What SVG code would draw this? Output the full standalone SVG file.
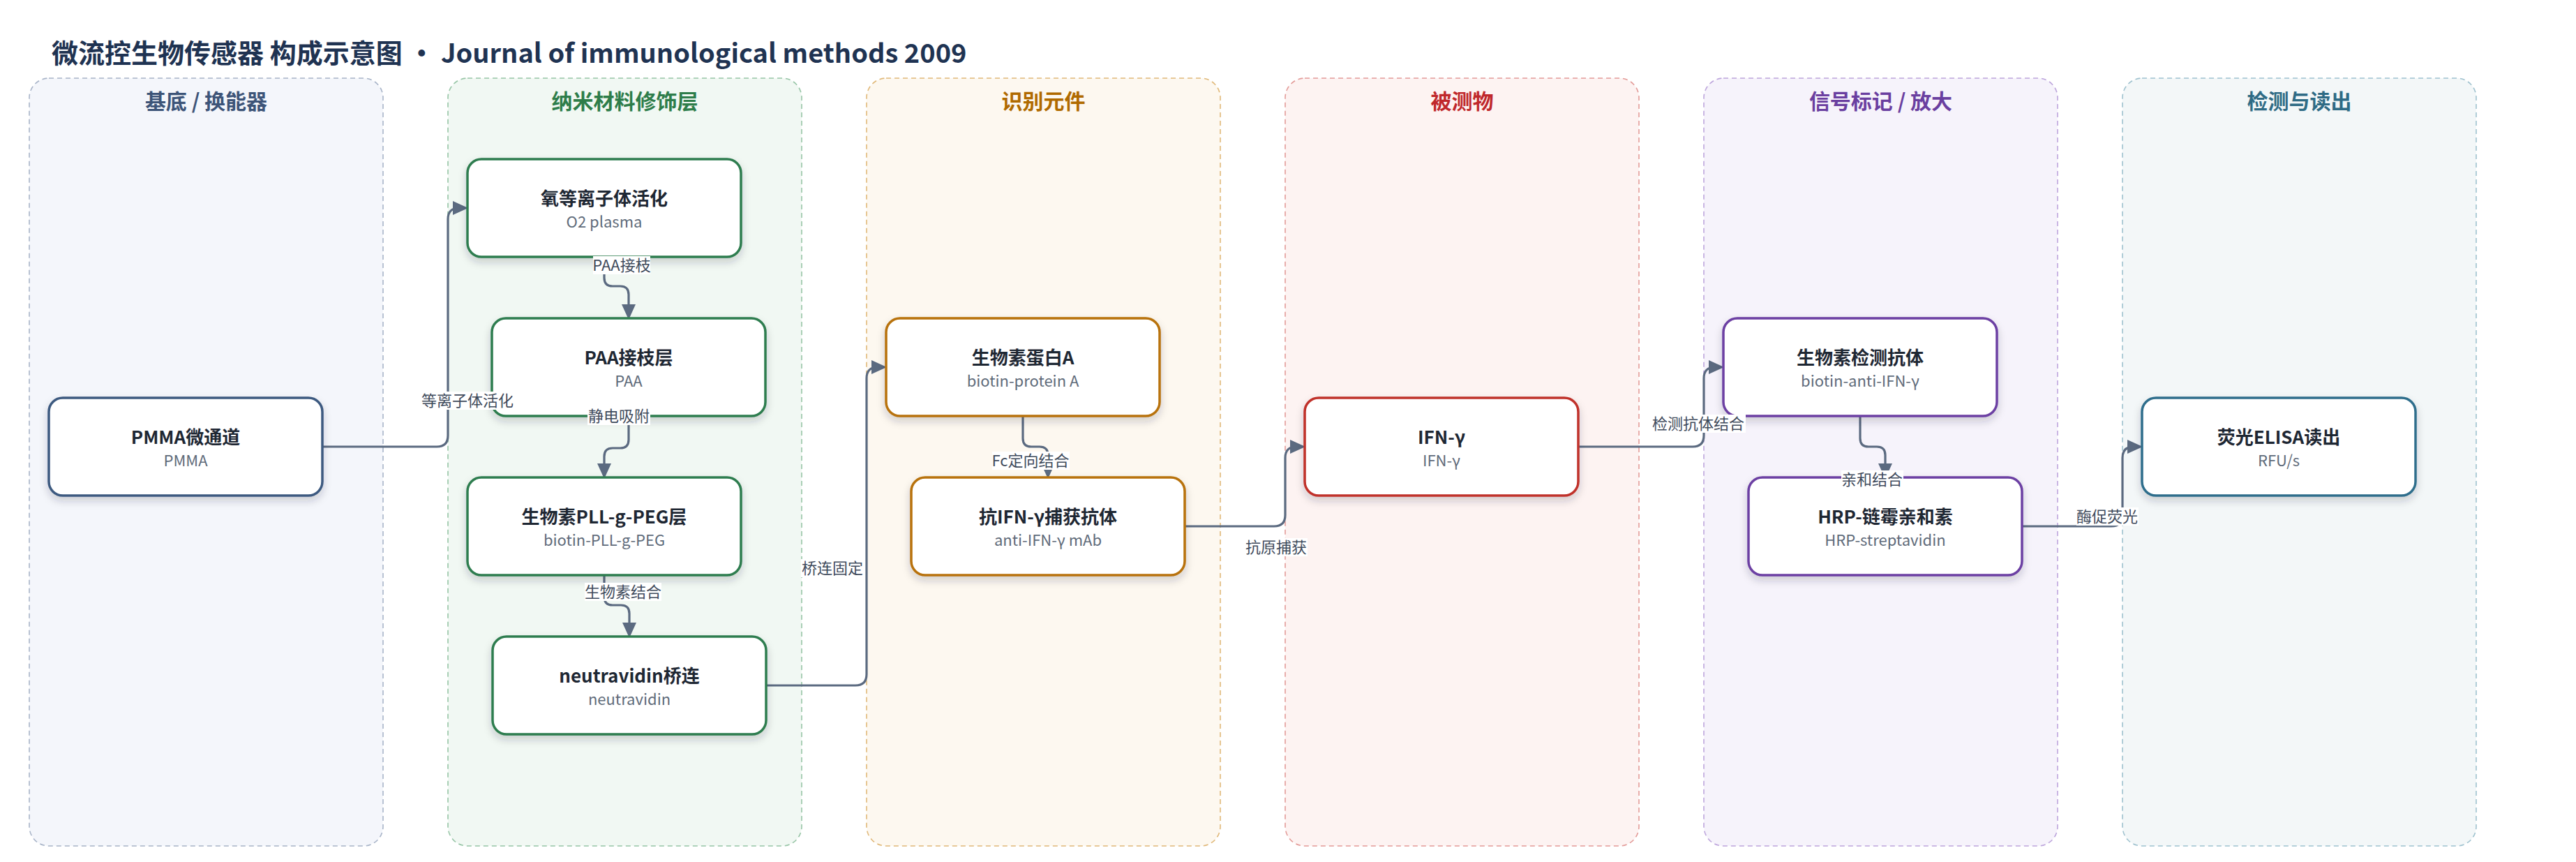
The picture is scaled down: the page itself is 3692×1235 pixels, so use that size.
<svg xmlns="http://www.w3.org/2000/svg" width="3692" height="1235" viewBox="0 0 3692 1235">
<style>
text{font-family:"Noto Sans CJK SC","Noto Sans",sans-serif}
.title{font-size:38px;font-weight:700;fill:#1f3352}
.lane{stroke-width:1.6;stroke-dasharray:7 5}
.lt{font-size:30px;font-weight:700;text-anchor:middle}
.node rect{fill:#fff;stroke-width:3.5;filter:url(#sh)}
.nt{font-size:26px;font-weight:700;fill:#1e2733;text-anchor:middle}
.ns{font-size:22px;fill:#5f6b7a;text-anchor:middle}
.edge{fill:none;stroke:#5b6a80;stroke-width:3.2;marker-end:url(#ah)}
.lb{fill:#fff}
.el{font-size:22px;fill:#3f4b5c;text-anchor:middle}
</style>
<defs>
<filter id="sh" x="-10%" y="-10%" width="120%" height="140%">
<feDropShadow dx="0" dy="6" stdDeviation="6" flood-color="#1e2a3a" flood-opacity="0.2"/>
</filter>
<marker id="ah" markerUnits="userSpaceOnUse" markerWidth="22" markerHeight="22" refX="12" refY="11" orient="auto">
<path d="M0,1 L22,11 L0,21 z" fill="#5b6a80"/>
</marker>
</defs>
<rect width="3692" height="1235" fill="#fff"/>
<text class="title" x="74" y="90">微流控生物传感器 构成示意图 · Journal of immunological methods 2009</text>

<g id="lanes">
<g id="lane-substrate"><rect class="lane" x="42" y="112" width="507" height="1100" rx="28" fill="#f4f6fb" stroke="#a8b4c8"/><text class="lt" x="295.5" y="156" fill="#3d5478">基底 / 换能器</text></g>
<g id="lane-nano"><rect class="lane" x="642" y="112" width="507" height="1100" rx="28" fill="#f1f8f3" stroke="#97c5a6"/><text class="lt" x="895.5" y="156" fill="#2e7d4a">纳米材料修饰层</text></g>
<g id="lane-recog"><rect class="lane" x="1242" y="112" width="507" height="1100" rx="28" fill="#fdf8f0" stroke="#e0b878"/><text class="lt" x="1495.5" y="156" fill="#b06a00">识别元件</text></g>
<g id="lane-analyte"><rect class="lane" x="1842" y="112" width="507" height="1100" rx="28" fill="#fdf3f2" stroke="#e39b98"/><text class="lt" x="2095.5" y="156" fill="#c0282c">被测物</text></g>
<g id="lane-signal"><rect class="lane" x="2442" y="112" width="507" height="1100" rx="28" fill="#f6f3fb" stroke="#bda5dc"/><text class="lt" x="2695.5" y="156" fill="#6a3fa0">信号标记 / 放大</text></g>
<g id="lane-readout"><rect class="lane" x="3042" y="112" width="507" height="1100" rx="28" fill="#f3f7f8" stroke="#9fc2cf"/><text class="lt" x="3295.5" y="156" fill="#2f6b85">检测与读出</text></g>
</g>

<g id="connectors">
<path class="edge" d="M462,640 H626 Q642,640 642,624 V314 Q642,298 658,298 H661"/>
<path class="edge" d="M866,368 V398 Q866,410 878,410 H889 Q901,410 901,422 V448"/>
<path class="edge" d="M901,596 V630 Q901,642 889,642 H878 Q866,642 866,654 V676"/>
<path class="edge" d="M866,824 V855 Q866,867 878,867 H890 Q902,867 902,879 V904"/>
<path class="edge" d="M1098,982 H1226 Q1242,982 1242,966 V542 Q1242,526 1258,526 H1261"/>
<path class="edge" d="M1466,596 V628 Q1466,640 1478,640 H1490 Q1502,640 1502,652 V676"/>
<path class="edge" d="M1698,754 H1826 Q1842,754 1842,738 V656 Q1842,640 1858,640 H1861"/>
<path class="edge" d="M2262,640 H2426 Q2442,640 2442,624 V542 Q2442,526 2458,526 H2461"/>
<path class="edge" d="M2666,596 V628 Q2666,640 2678,640 H2690 Q2702,640 2702,652 V676"/>
<path class="edge" d="M2898,754 H3026 Q3042,754 3042,738 V656 Q3042,640 3058,640 H3061"/>
</g>

<g id="nodes">
<g id="n-pmma" class="node"><rect x="70" y="570" width="392" height="140" rx="20" stroke="#3e5a80"/><text class="nt" x="266" y="636">PMMA微通道</text><text class="ns" x="266" y="668">PMMA</text></g>
<g id="n-o2" class="node"><rect x="670" y="228" width="392" height="140" rx="20" stroke="#2e7d4f"/><text class="nt" x="866" y="294">氧等离子体活化</text><text class="ns" x="866" y="326">O2 plasma</text></g>
<g id="n-paa" class="node"><rect x="705" y="456" width="392" height="140" rx="20" stroke="#2e7d4f"/><text class="nt" x="901" y="522">PAA接枝层</text><text class="ns" x="901" y="554">PAA</text></g>
<g id="n-pll" class="node"><rect x="670" y="684" width="392" height="140" rx="20" stroke="#2e7d4f"/><text class="nt" x="866" y="750">生物素PLL-g-PEG层</text><text class="ns" x="866" y="782">biotin-PLL-g-PEG</text></g>
<g id="n-neutr" class="node"><rect x="706" y="912" width="392" height="140" rx="20" stroke="#2e7d4f"/><text class="nt" x="902" y="978">neutravidin桥连</text><text class="ns" x="902" y="1010">neutravidin</text></g>
<g id="n-protA" class="node"><rect x="1270" y="456" width="392" height="140" rx="20" stroke="#b87208"/><text class="nt" x="1466" y="522">生物素蛋白A</text><text class="ns" x="1466" y="554">biotin-protein A</text></g>
<g id="n-capab" class="node"><rect x="1306" y="684" width="392" height="140" rx="20" stroke="#b87208"/><text class="nt" x="1502" y="750">抗IFN-γ捕获抗体</text><text class="ns" x="1502" y="782">anti-IFN-γ mAb</text></g>
<g id="n-ifn" class="node"><rect x="1870" y="570" width="392" height="140" rx="20" stroke="#c0302c"/><text class="nt" x="2066" y="636">IFN-γ</text><text class="ns" x="2066" y="668">IFN-γ</text></g>
<g id="n-detab" class="node"><rect x="2470" y="456" width="392" height="140" rx="20" stroke="#6c3fa3"/><text class="nt" x="2666" y="522">生物素检测抗体</text><text class="ns" x="2666" y="554">biotin-anti-IFN-γ</text></g>
<g id="n-hrp" class="node"><rect x="2506" y="684" width="392" height="140" rx="20" stroke="#6c3fa3"/><text class="nt" x="2702" y="750">HRP-链霉亲和素</text><text class="ns" x="2702" y="782">HRP-streptavidin</text></g>
<g id="n-elisa" class="node"><rect x="3070" y="570" width="392" height="140" rx="20" stroke="#2f6e8c"/><text class="nt" x="3266" y="636">荧光ELISA读出</text><text class="ns" x="3266" y="668">RFU/s</text></g>
</g>

<g id="edge-labels">
<rect class="lb" x="603" y="561" width="134" height="26"/><text class="el" x="670" y="582">等离子体活化</text>
<rect class="lb" x="850" y="367" width="82" height="26"/><text class="el" x="891" y="388">PAA接枝</text>
<rect class="lb" x="842" y="583" width="90" height="26"/><text class="el" x="887" y="604">静电吸附</text>
<rect class="lb" x="838" y="835" width="110" height="26"/><text class="el" x="893" y="856">生物素结合</text>
<rect class="lb" x="1148" y="801" width="90" height="26"/><text class="el" x="1193" y="822">桥连固定</text>
<rect class="lb" x="1422" y="647" width="111" height="26"/><text class="el" x="1477" y="668">Fc定向结合</text>
<rect class="lb" x="1784" y="771" width="90" height="26"/><text class="el" x="1829" y="792">抗原捕获</text>
<rect class="lb" x="2367" y="594" width="135" height="26"/><text class="el" x="2434" y="615">检测抗体结合</text>
<rect class="lb" x="2639" y="674" width="89" height="26"/><text class="el" x="2683" y="695">亲和结合</text>
<rect class="lb" x="2976" y="727" width="89" height="26"/><text class="el" x="3020" y="748">酶促荧光</text>
</g>
</svg>
